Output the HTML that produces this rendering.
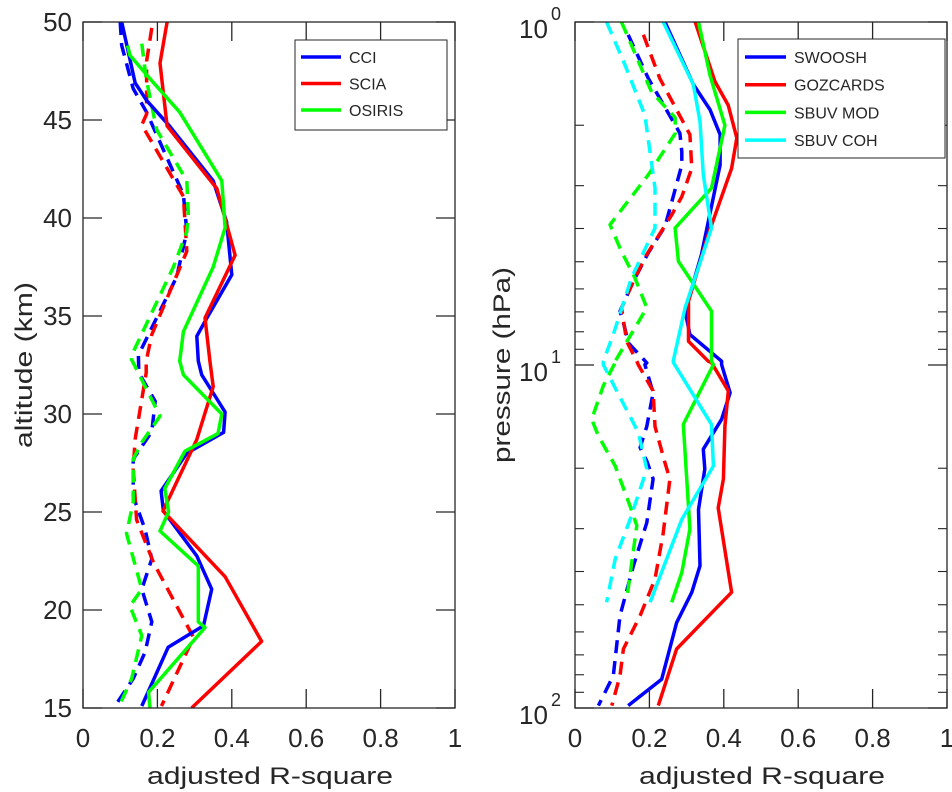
<!DOCTYPE html>
<html><head><meta charset="utf-8"><style>
html,body{margin:0;padding:0;background:#fff;width:952px;height:792px;overflow:hidden}
svg text{font-family:"Liberation Sans",sans-serif;fill:#262626}
</style></head><body>
<svg id="chart" width="952" height="792" xmlns="http://www.w3.org/2000/svg">
<g id="left"></g>
<g id="right"></g>
</svg>
<script>
// ---------- Left panel data (altitude km vs adjusted R-square) ----------
const leftCciAlt = [50,46.9,46.0,44.75,41.9,39.8,37.1,34.9,33.97,32.7,32.0,30.1,29.06,28.0,26.07,25.05,22.76,21.06,19.2,18.1,15.1];
const leftCciVal = [0.104,0.14,0.171,0.23,0.35,0.386,0.40,0.333,0.306,0.31,0.319,0.382,0.378,0.279,0.21,0.216,0.306,0.346,0.324,0.229,0.158];
const leftSciaAlt = [50,47.9,44.7,41.5,38.1,34.9,32.7,31.4,28.7,25.05,21.7,18.4,15];
const leftSciaVal = [0.226,0.207,0.226,0.36,0.409,0.328,0.341,0.35,0.306,0.215,0.382,0.48,0.292];
const leftOsirisAlt = [48.8,48.3,47.1,45.4,41.9,39.5,37.5,34.2,32.7,32.0,30.0,29.0,28.1,26.2,25,24.03,22.25,19.4,19.1,15.8,15];
const leftOsirisVal = [0.12,0.126,0.18,0.26,0.373,0.382,0.35,0.27,0.26,0.27,0.373,0.363,0.274,0.22,0.23,0.207,0.31,0.31,0.328,0.176,0.18];
const leftCciDashAlt = [50,48.8,46.6,45.4,41.2,39.3,37.0,33.0,32.1,30.65,29.1,27.7,25.8,24.1,22.6,21.06,19.4,17.85,16.5,15.1];
const leftCciDashVal = [0.1,0.104,0.135,0.171,0.27,0.279,0.252,0.149,0.15,0.194,0.185,0.135,0.135,0.167,0.185,0.158,0.185,0.167,0.135,0.086];
const leftSciaDashAlt = [49.7,48.0,45.3,44.75,44.2,41.1,38.3,34.05,32.7,32.1,28.7,27.2,24.6,22.4,18.6,15.1];
const leftSciaDashVal = [0.185,0.171,0.171,0.158,0.175,0.27,0.279,0.185,0.17,0.17,0.14,0.135,0.144,0.19,0.297,0.211];
const leftOsirisDashAlt = [48.9,47.1,44.5,41.9,40.2,39.3,37.5,33,32.8,29.9,28.55,27.7,25.5,23.9,21.06,20.2,18.7,16.5,15];
const leftOsirisDashVal = [0.158,0.17,0.198,0.279,0.283,0.279,0.243,0.131,0.13,0.207,0.158,0.135,0.135,0.117,0.158,0.126,0.158,0.131,0.095];
const leftXTicks = [0,0.2,0.4,0.6,0.8,1];
const leftXTickLabels = ["0","0.2","0.4","0.6","0.8","1"];
const leftYTicks = [15,20,25,30,35,40,45,50];
const leftYTickLabels = ["15","20","25","30","35","40","45","50"];
const leftLegend = ["CCI","SCIA","OSIRIS"];

// ---------- Right panel data (pressure hPa vs adjusted R-square) ----------
const swooshP = [1.0,1.52,1.8,2.13,2.61,4.76,6.97,8.15,9.75,9.97,12.05,14.4,17.6,20.1,26.4,38.5,46.0,56.4,82.4,98.4];
const swooshVal = [0.242,0.318,0.363,0.39,0.39,0.34,0.296,0.309,0.394,0.394,0.417,0.394,0.345,0.349,0.332,0.336,0.314,0.273,0.233,0.143];
const gozP = [1.0,1.49,1.75,2.18,2.67,4.17,6.52,8.53,9.75,9.84,11.9,15.1,21.5,26.1,46.0,67.3,98.4];
const gozVal = [0.323,0.376,0.412,0.435,0.421,0.358,0.305,0.305,0.358,0.367,0.412,0.403,0.399,0.385,0.421,0.273,0.224];
const sbuvModP = [1.0,1.43,2.0,3.05,3.99,4.99,6.97,9.75,9.97,14.9,30.1,40.3,49.2];
const sbuvModVal = [0.332,0.363,0.403,0.367,0.269,0.278,0.367,0.367,0.372,0.291,0.309,0.287,0.26];
const sbuvCohP = [1.0,1.52,1.95,2.79,3.99,6.81,9.75,9.86,14.9,19.7,28.2,49.2];
const sbuvCohVal = [0.237,0.318,0.336,0.345,0.367,0.296,0.264,0.265,0.367,0.372,0.287,0.202];
const swooshDashP = [1.09,1.46,2.11,2.39,2.61,3.23,3.94,4.71,5.7,6.97,7.8,8.61,9.86,9.97,12.05,15.1,17.4,19.05,21.5,28.8,38.5,53.8,80.5,98.4];
const swooshDashVal = [0.143,0.197,0.282,0.287,0.287,0.264,0.242,0.197,0.157,0.121,0.134,0.143,0.193,0.188,0.21,0.193,0.175,0.193,0.21,0.193,0.157,0.121,0.103,0.063];
const gozDashP = [1.09,1.46,2.13,2.67,3.23,3.65,4.76,5.7,6.81,8.53,9.75,9.97,11.9,15.1,19.3,21.5,30.9,42.1,53.8,67.3,80.5,98.4];
const gozDashVal = [0.184,0.228,0.309,0.314,0.287,0.26,0.193,0.157,0.125,0.139,0.166,0.17,0.21,0.215,0.242,0.255,0.237,0.215,0.175,0.13,0.121,0.099];
const sbuvModDashP = [1.0,1.6,1.9,2.11,2.79,3.9,4.67,5.57,6.81,9.75,9.64,11.5,14.4,16.1,19.7,25.8,29.4,48.2];
const sbuvModDashVal = [0.125,0.206,0.269,0.27,0.197,0.094,0.125,0.161,0.193,0.108,0.112,0.076,0.045,0.063,0.108,0.148,0.166,0.139];
const sbuvCohDashP = [1.0,1.33,1.87,3.05,3.99,5.57,8.15,9.75,9.97,11.9,15.7,20.1,28.2,36.8,49.2];
const sbuvCohDashVal = [0.085,0.134,0.188,0.215,0.215,0.152,0.103,0.076,0.076,0.112,0.17,0.193,0.148,0.108,0.085];
const rightXTicks = [0,0.2,0.4,0.6,0.8,1];
const rightXTickLabels = ["0","0.2","0.4","0.6","0.8","1"];
const rightMajorTicks = [1,10,100];
const rightMajorExp = ["0","1","2"];
const rightLegend = ["SWOOSH","GOZCARDS","SBUV MOD","SBUV COH"];

const NS = "http://www.w3.org/2000/svg";
const AX = "#262626";
function mk(parent, tag, attrs){const e=document.createElementNS(NS,tag);for(const k in attrs)e.setAttribute(k,attrs[k]);parent.appendChild(e);return e;}

const L = {x0:83, x1:455, y0:22, y1:708};
const R = {x0:575, x1:947, y0:22, y1:708};
const lx = v => L.x0 + v*(L.x1-L.x0);
const ly = a => L.y1 - (a-15)/(50-15)*(L.y1-L.y0);
const rx = v => R.x0 + v*(R.x1-R.x0);
const ry = p => R.y0 + Math.log10(p)/2*(R.y1-R.y0);

const gl = document.getElementById('left');
const gr = document.getElementById('right');

function line(g, xs, ys, fx, fy, color, dashed, name){
  const pts = xs.map((v,i)=>fx(v).toFixed(1)+','+fy(ys[i]).toFixed(1)).join(' ');
  const el = mk(g,'polyline',{points:pts,fill:'none',stroke:color,'stroke-width':3.5,'stroke-linejoin':'round'});
  if(dashed) el.setAttribute('stroke-dasharray','13 8');
  
  
}

// ---- left panel ----
const lclip = mk(gl,'clipPath',{id:'lc'}); mk(lclip,'rect',{x:L.x0,y:L.y0,width:L.x1-L.x0,height:L.y1-L.y0});
const lseries = mk(gl,'g',{'clip-path':'url(#lc)'});


line(lseries, leftCciDashVal, leftCciDashAlt, lx, ly, '#0000ff', true, 'cci-dashed-line');
line(lseries, leftSciaDashVal, leftSciaDashAlt, lx, ly, '#ff0000', true, 'scia-dashed-line');
line(lseries, leftOsirisDashVal, leftOsirisDashAlt, lx, ly, '#00ff00', true, 'osiris-dashed-line');
line(lseries, leftCciVal, leftCciAlt, lx, ly, '#0000ff', false, 'cci-line');
line(lseries, leftSciaVal, leftSciaAlt, lx, ly, '#ff0000', false, 'scia-line');
line(lseries, leftOsirisVal, leftOsirisAlt, lx, ly, '#00ff00', false, 'osiris-line');
mk(gl,'rect',{x:L.x0,y:L.y0,width:L.x1-L.x0,height:L.y1-L.y0,fill:'none',stroke:AX,'stroke-width':1.3});
leftXTicks.forEach((v,i)=>{
  mk(gl,'line',{x1:lx(v),x2:lx(v),y1:L.y1,y2:L.y1-19,stroke:AX,'stroke-width':1.3});
  mk(gl,'line',{x1:lx(v),x2:lx(v),y1:L.y0,y2:L.y0+19,stroke:AX,'stroke-width':1.3});
  const t=mk(gl,'text',{x:lx(v),y:747,'text-anchor':'middle','font-size':26});
  t.textContent=leftXTickLabels[i];
  
  
});
leftYTicks.forEach((a,i)=>{
  mk(gl,'line',{x1:L.x0,x2:L.x0+19,y1:ly(a),y2:ly(a),stroke:AX,'stroke-width':1.3});
  mk(gl,'line',{x1:L.x1,x2:L.x1-19,y1:ly(a),y2:ly(a),stroke:AX,'stroke-width':1.3});
  const t=mk(gl,'text',{x:72,y:ly(a)+9,'text-anchor':'end','font-size':26});
  t.textContent=leftYTickLabels[i];
  
  
});
(function(){
  const t=mk(gl,'text',{x:270,y:784,'text-anchor':'middle','font-size':24,textLength:246,lengthAdjust:'spacingAndGlyphs'}); t.textContent='adjusted R-square';
   
  const y=mk(gl,'text',{x:0,y:0,'text-anchor':'middle','font-size':24,textLength:166,lengthAdjust:'spacingAndGlyphs',transform:'translate(32,365) rotate(-90)'}); y.textContent='altitude (km)';
   
  const lg=mk(gl,'g',{});
   
  mk(lg,'rect',{x:295,y:40,width:152,height:90,fill:'#fff',stroke:AX,'stroke-width':1});
  const cols=['#0000ff','#ff0000','#00ff00'];
  leftLegend.forEach((n,i)=>{
    const yy=57+i*26.5;
    mk(lg,'line',{x1:301,x2:341,y1:yy,y2:yy,stroke:cols[i],'stroke-width':3.5});
    const t=mk(lg,'text',{x:349,y:yy+6,'font-size':16}); t.textContent=n;
     
  });
})();

// ---- right panel ----
const rclip = mk(gr,'clipPath',{id:'rc'}); mk(rclip,'rect',{x:R.x0,y:R.y0,width:R.x1-R.x0,height:R.y1-R.y0});
const rseries = mk(gr,'g',{'clip-path':'url(#rc)'});


line(rseries, swooshDashVal, swooshDashP, rx, ry, '#0000ff', true, 'swoosh-dashed-line');
line(rseries, gozDashVal, gozDashP, rx, ry, '#ff0000', true, 'gozcards-dashed-line');
line(rseries, sbuvModDashVal, sbuvModDashP, rx, ry, '#00ff00', true, 'sbuv-mod-dashed-line');
line(rseries, sbuvCohDashVal, sbuvCohDashP, rx, ry, '#00ffff', true, 'sbuv-coh-dashed-line');
line(rseries, swooshVal, swooshP, rx, ry, '#0000ff', false, 'swoosh-line');
line(rseries, gozVal, gozP, rx, ry, '#ff0000', false, 'gozcards-line');
line(rseries, sbuvModVal, sbuvModP, rx, ry, '#00ff00', false, 'sbuv-mod-line');
line(rseries, sbuvCohVal, sbuvCohP, rx, ry, '#00ffff', false, 'sbuv-coh-line');
mk(gr,'rect',{x:R.x0,y:R.y0,width:R.x1-R.x0,height:R.y1-R.y0,fill:'none',stroke:AX,'stroke-width':1.3});
rightXTicks.forEach((v,i)=>{
  mk(gr,'line',{x1:rx(v),x2:rx(v),y1:R.y1,y2:R.y1-19,stroke:AX,'stroke-width':1.3});
  mk(gr,'line',{x1:rx(v),x2:rx(v),y1:R.y0,y2:R.y0+19,stroke:AX,'stroke-width':1.3});
  const t=mk(gr,'text',{x:rx(v),y:747,'text-anchor':'middle','font-size':26});
  t.textContent=rightXTickLabels[i];
  
  
});
for(let d=1; d<100; d*=10){
  for(let m=2;m<=9;m++){
    const y=ry(d*m);
    mk(gr,'line',{x1:R.x0,x2:R.x0+9,y1:y,y2:y,stroke:AX,'stroke-width':1.1});
    mk(gr,'line',{x1:R.x1,x2:R.x1-9,y1:y,y2:y,stroke:AX,'stroke-width':1.1});
  }
}
rightMajorTicks.forEach((p,i)=>{
  const y=ry(p);
  mk(gr,'line',{x1:R.x0,x2:R.x0+19,y1:y,y2:y,stroke:AX,'stroke-width':1.3});
  mk(gr,'line',{x1:R.x1,x2:R.x1-19,y1:y,y2:y,stroke:AX,'stroke-width':1.3});
  const t=mk(gr,'text',{x:519,y:y+16,'font-size':26}); t.textContent='10';
   
  const s=mk(gr,'text',{x:551,y:y-2,'font-size':18}); s.textContent=rightMajorExp[i];
   
});
(function(){
  const t=mk(gr,'text',{x:762,y:784,'text-anchor':'middle','font-size':24,textLength:246,lengthAdjust:'spacingAndGlyphs'}); t.textContent='adjusted R-square';
   
  const y=mk(gr,'text',{x:0,y:0,'text-anchor':'middle','font-size':24,textLength:196,lengthAdjust:'spacingAndGlyphs',transform:'translate(510,365) rotate(-90)'}); y.textContent='pressure (hPa)';
   
  const lg=mk(gr,'g',{});
   
  mk(lg,'rect',{x:738,y:39,width:207,height:119,fill:'#fff',stroke:AX,'stroke-width':1});
  const cols=['#0000ff','#ff0000','#00ff00','#00ffff'];
  rightLegend.forEach((n,i)=>{
    const yy=57+i*27.7;
    mk(lg,'line',{x1:745,x2:786,y1:yy,y2:yy,stroke:cols[i],'stroke-width':3.5});
    const t=mk(lg,'text',{x:794,y:yy+6,'font-size':16}); t.textContent=n;
     
  });
})();
</script>
</body></html>
